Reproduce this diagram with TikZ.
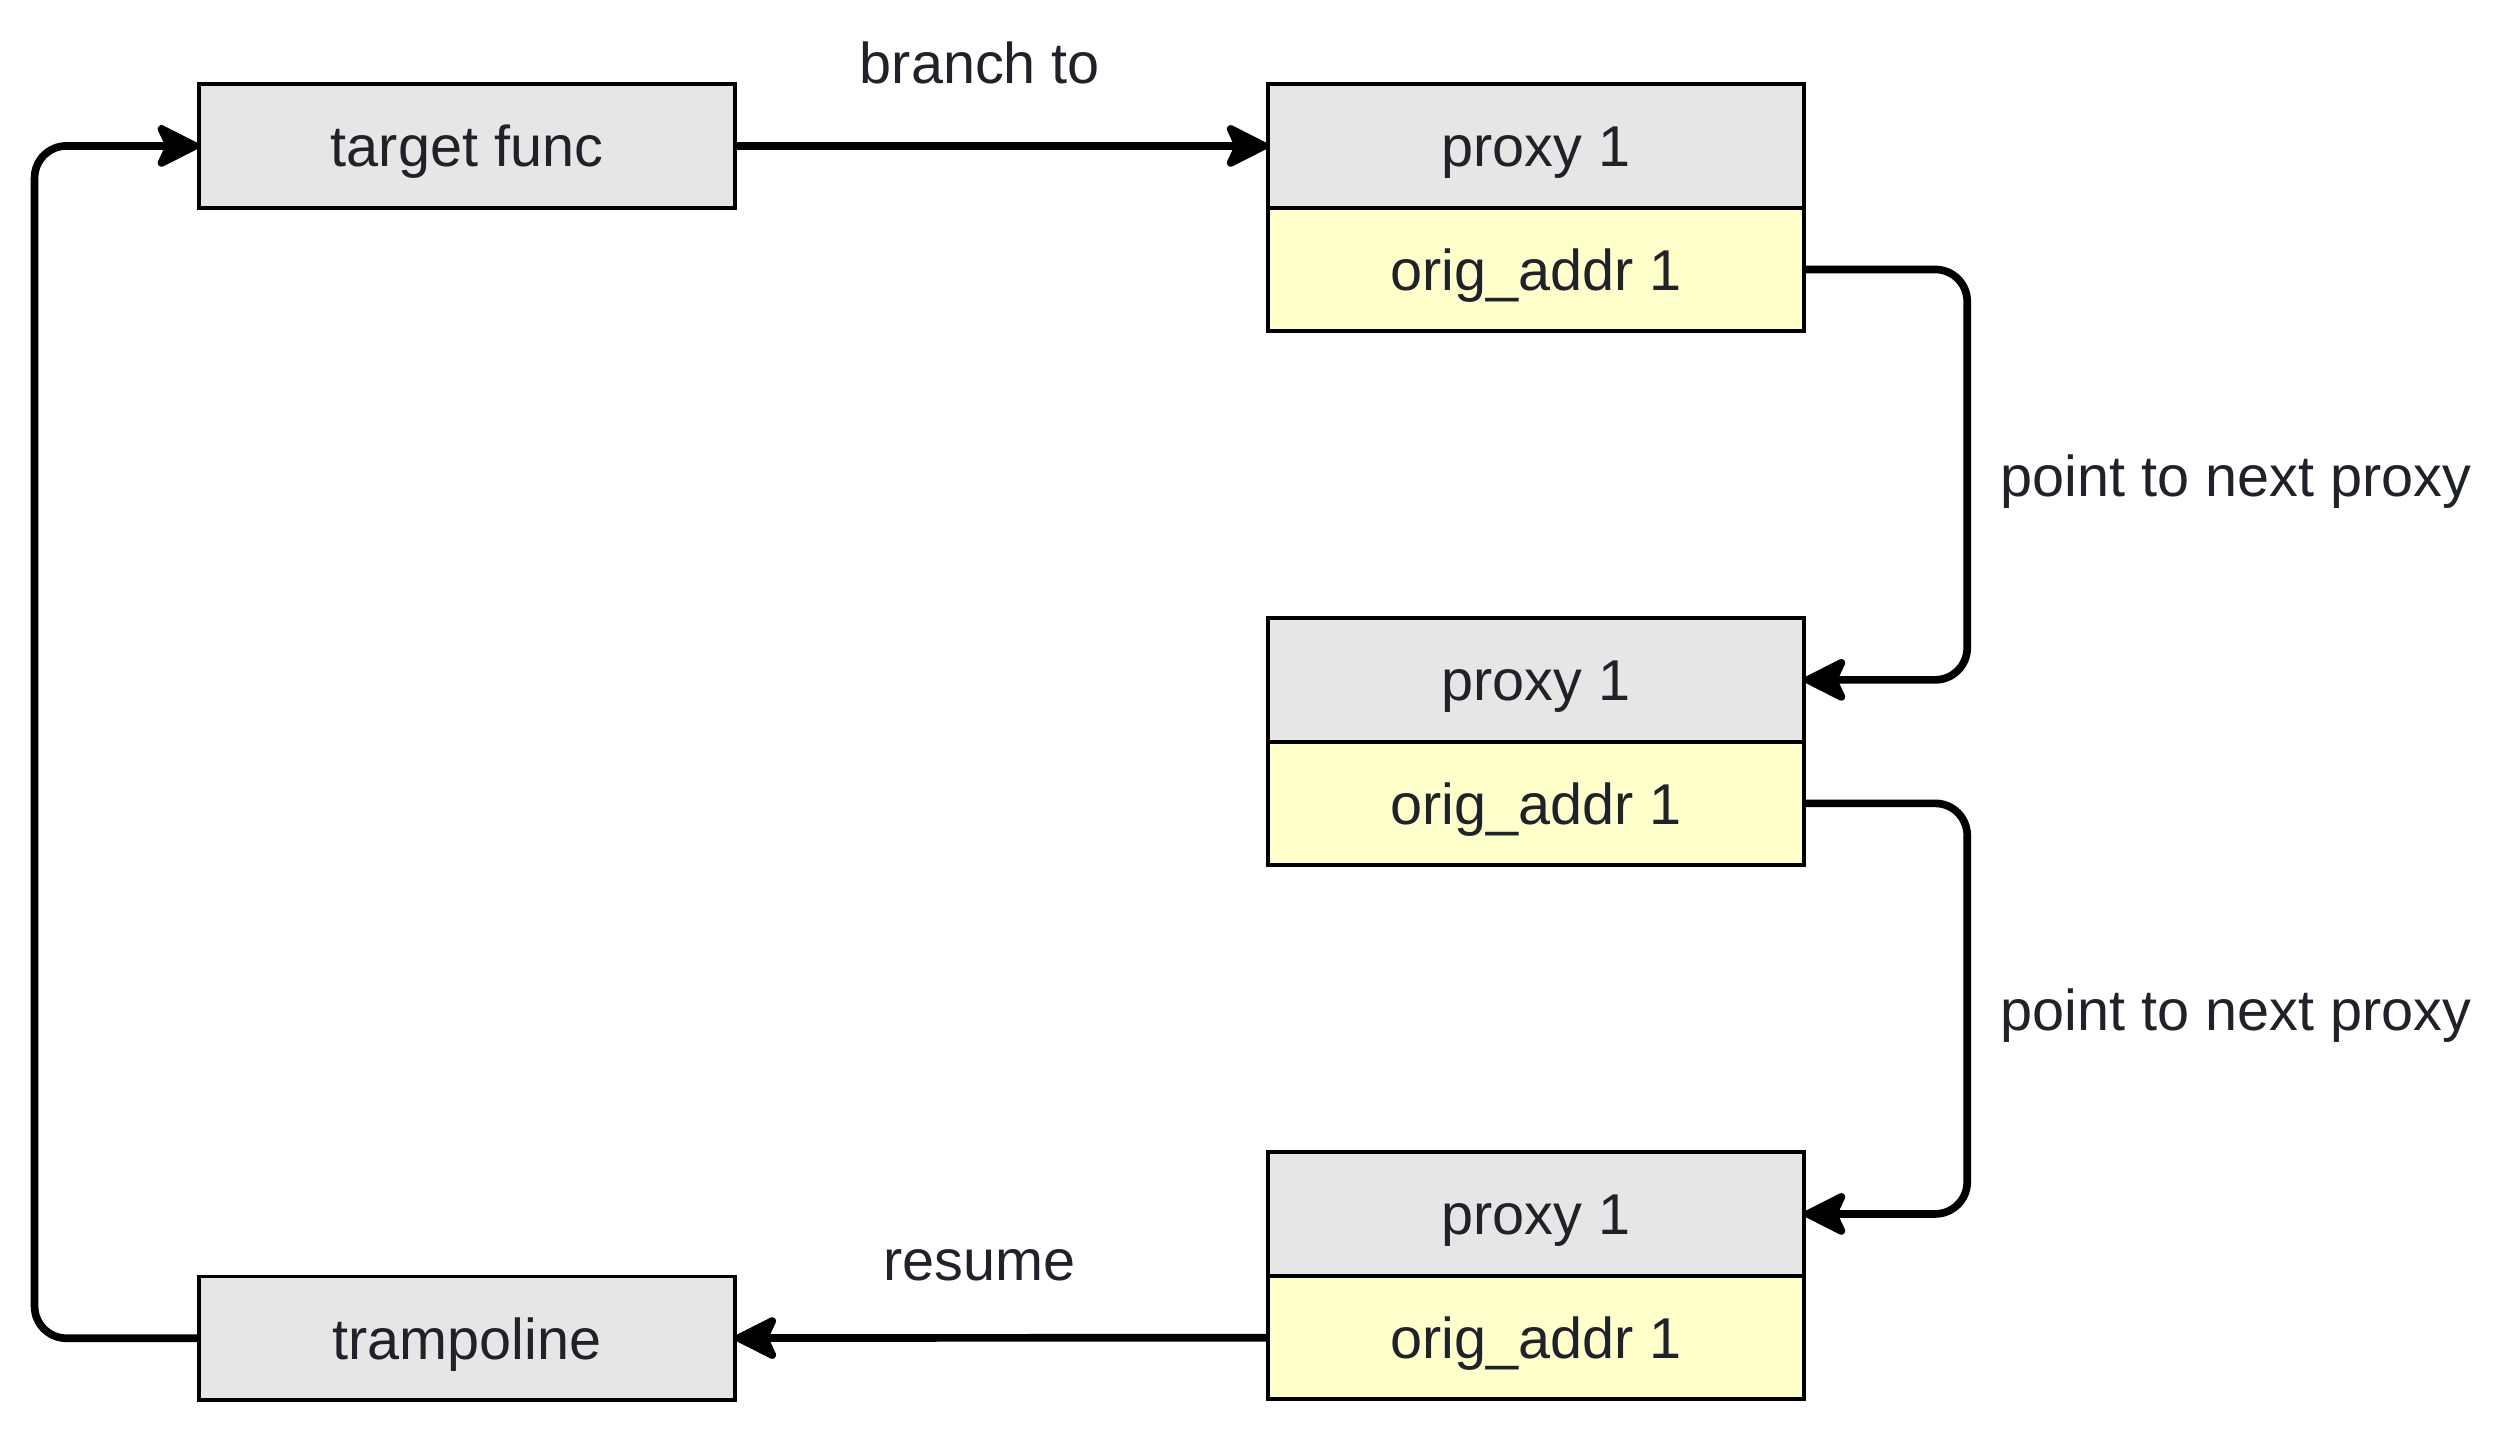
\documentclass[tikz,border=0pt]{standalone}
\usepackage{fontspec}
\setmainfont{Liberation Sans}
\usetikzlibrary{positioning,arrows.meta}
\definecolor{boxgray}{HTML}{E6E6E6}
\definecolor{boxyellow}{HTML}{FFFFCC}
\definecolor{txt}{HTML}{1F2329}
\begin{document}
\begin{tikzpicture}[x=0.5pt, y=-0.5pt, font=\fontsize{18}{21}\selectfont, text=txt,%
  cell/.style={draw=black, line width=1.2pt, minimum width=167.5pt, minimum height=38.6pt,
    inner sep=0pt, outer sep=0pt, text height=13pt, text depth=0pt},
  fn/.style={cell, fill=boxgray},
  ad/.style={cell, fill=boxyellow},
  lbl/.style={inner sep=0pt},
  arr/.style={line width=2.4pt, rounded corners=10pt,
    -{Stealth[length=15.5pt, width=15.5pt, inset=3.5pt, round=false]}}]
  \useasboundingbox (0,0) rectangle (1562.5,894.4);
  % left column
  \node[fn] (tf) at (291.8,91.2) {target func};
  \node[fn] (tr) at (291.8,836.4) {trampoline};
  % proxies
  \node[fn] (p1) at (960,91.2) {proxy 1};
  \node[ad, below=0pt of p1] (a1) {orig\_addr 1};
  \node[fn] (p2) at (960,424.9) {proxy 1};
  \node[ad, below=0pt of p2] (a2) {orig\_addr 1};
  \node[fn] (p3) at (960,758.7) {proxy 1};
  \node[ad, below=0pt of p3] (a3) {orig\_addr 1};
  % labels
  \node[lbl, anchor=base] (lb) at (612.5,52) {branch to};
  \node[lbl, anchor=base west] (ln1) at (1250,310) {point to next proxy};
  \node[lbl, anchor=base west] (ln2) at (1250,644) {point to next proxy};
  \node[lbl, anchor=base] (lr) at (612,800) {resume};
  % connectors
  \draw[arr] (tf) -- (p1);
  \draw[arr] (a1.east) -- ++(102,0) |- (p2.east);
  \draw[arr] (a2.east) -- ++(102,0) |- (p3.east);
  \draw[arr] (a3) -- (tr);
  \draw[arr] (tr.west) -- ++(-102.7,0) |- (tf.west);
\end{tikzpicture}
\end{document}
